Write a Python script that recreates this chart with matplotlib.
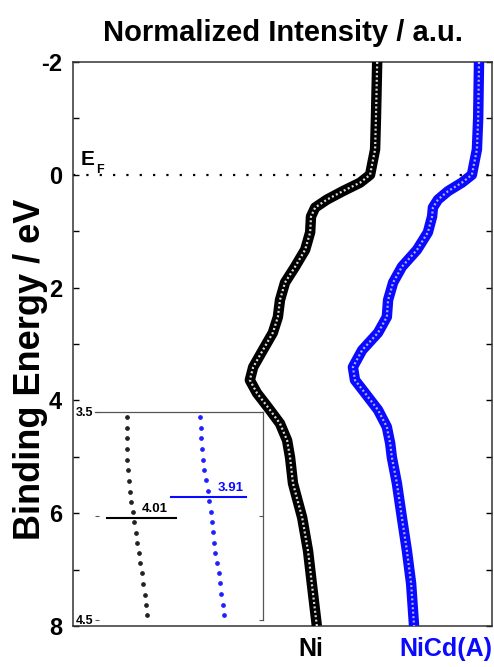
import numpy as np
import matplotlib
matplotlib.use('Agg')
import matplotlib.pyplot as plt

plt.rcParams['font.family'] = ['Liberation Sans', 'DejaVu Sans']
plt.rcParams['font.weight'] = 'bold'
plt.rcParams['axes.unicode_minus'] = False

# main spectra: binding energy (eV) vs normalized intensity (a.u.)
energy_ni = [-2.0, -1.0, -0.45, 0.0, 0.14, 0.29, 0.44, 0.58, 0.74, 1.02, 1.33, 1.63,
             1.91, 2.22, 2.52, 2.80, 3.11, 3.41, 3.64, 3.87, 4.12, 4.41, 4.71, 5.01,
             5.47, 6.08, 6.67, 7.25, 8.0]
intensity_ni = [0.726, 0.723, 0.721, 0.709, 0.685, 0.644, 0.606, 0.578, 0.568, 0.566,
                0.554, 0.530, 0.506, 0.494, 0.489, 0.477, 0.453, 0.430, 0.422, 0.439,
                0.465, 0.494, 0.511, 0.518, 0.525, 0.547, 0.561, 0.570, 0.582]

energy_nicd = [-2.0, -1.0, -0.45, 0.0, 0.14, 0.29, 0.44, 0.58, 0.74, 1.02, 1.33, 1.63,
               1.91, 2.22, 2.52, 2.80, 3.11, 3.41, 3.64, 3.87, 4.17, 4.47, 4.76, 5.01,
               5.47, 6.08, 6.67, 7.25, 8.0]
intensity_nicd = [0.969, 0.967, 0.964, 0.952, 0.928, 0.895, 0.871, 0.859, 0.857, 0.847,
                  0.821, 0.785, 0.764, 0.752, 0.749, 0.728, 0.690, 0.668, 0.673, 0.697,
                  0.728, 0.749, 0.757, 0.761, 0.773, 0.785, 0.797, 0.807, 0.814]

# inset: leading edge 3.5 - 4.5 eV
inset_e_ni = [3.526, 3.579, 3.627, 3.679, 3.731, 3.779, 3.832, 3.883, 3.931, 3.979,
              4.030, 4.080, 4.131, 4.179, 4.228, 4.276, 4.329, 4.380, 4.428, 4.476]
inset_i_ni = [0.282, 0.282, 0.282, 0.282, 0.286, 0.289, 0.295, 0.300, 0.305, 0.314,
              0.321, 0.330, 0.339, 0.347, 0.353, 0.361, 0.370, 0.379, 0.384, 0.389]
inset_e_nicd = [3.526, 3.579, 3.627, 3.679, 3.731, 3.779, 3.827, 3.878, 3.926, 3.979,
                4.027, 4.075, 4.128, 4.176, 4.228, 4.276, 4.324, 4.377, 4.428, 4.476]
inset_i_nicd = [0.668, 0.672, 0.675, 0.679, 0.686, 0.691, 0.700, 0.709, 0.718, 0.725,
                0.730, 0.735, 0.742, 0.749, 0.760, 0.767, 0.774, 0.781, 0.788, 0.795]
edge_ni = 4.01
edge_nicd = 3.91

BLUE = '#0a0aff'

fig = plt.figure(figsize=(4.94, 6.67), dpi=100)
W, H = 494, 667
ax = fig.add_axes([73 / W, 1 - 626 / H, (492 - 73) / W, (626 - 62) / H])


def spectrum(x, y, color, center):
    ax.plot(x, y, color=color, lw=7.5, solid_joinstyle='round', solid_capstyle='butt', zorder=3)
    ax.plot(x, y, color=center, lw=1.6, ls=(0, (0.9, 1.1)), alpha=0.85, zorder=4)


spectrum(intensity_ni, energy_ni, 'black', 'white')
spectrum(intensity_nicd, energy_nicd, BLUE, '#c8c8ff')

ax.axhline(0, color='black', lw=1.6, ls=(0, (1, 5)), zorder=2)

ax.set_xlim(0, 1)
ax.set_ylim(8, -2)
ax.set_xticks([])
ax.set_yticks([-2, 0, 2, 4, 6, 8])
ax.set_yticks(np.arange(-2, 9, 1), minor=True)
ax.tick_params(axis='y', which='both', direction='in', right=True, length=4,
               width=1, labelsize=17, pad=8)
for s in ax.spines.values():
    s.set_linewidth(1.1)
    s.set_color('#333333')
ax.set_ylabel('Binding Energy / eV', fontsize=26, fontweight='bold')
ax.yaxis.set_label_coords(-0.06, 0.455)
ax.set_title('Normalized Intensity / a.u.', fontsize=21, fontweight='bold', pad=15)

ax.text(0.018, -0.18, 'E', fontsize=15, fontweight='bold', transform=ax.get_yaxis_transform())
ax.text(0.054, -0.04, 'F', fontsize=9, fontweight='bold', transform=ax.get_yaxis_transform())

fig.text(311 / W, 1 - 649 / H, 'Ni', fontsize=18, fontweight='bold', ha='center', va='center')
fig.text(446 / W, 1 - 649 / H, 'NiCd(A)', fontsize=18, fontweight='bold', color=BLUE,
         ha='center', va='center')

# inset
ins = fig.add_axes([95 / W, 1 - 620 / H, (263 - 95) / W, (620 - 412) / H])
ins.patch.set_alpha(0)
ins.plot(inset_i_ni, inset_e_ni, ls='none', marker='o', ms=2.4, color='#222222')
ins.plot(inset_i_nicd, inset_e_nicd, ls='none', marker='o', ms=2.4, color='#2020ff')
ins.plot([0.177, 0.542], [edge_ni, edge_ni], color='black', lw=1.5)
ins.plot([0.514, 0.911], [edge_nicd, edge_nicd], color=BLUE, lw=1.5)
ins.text(0.432, edge_ni - 0.015, '%.2f' % edge_ni, fontsize=9.5, fontweight='bold',
         ha='center', va='bottom')
ins.text(0.829, edge_nicd - 0.015, '%.2f' % edge_nicd, fontsize=9.5, fontweight='bold',
         color=BLUE, ha='center', va='bottom')
ins.set_xlim((95 - 73) / 190, 1)
ins.set_ylim(4.5, 3.5)
ins.set_xticks([])
ins.set_yticks([3.5, 4.0, 4.5])
ins.set_yticklabels(['3.5', '', '4.5'])
ins.tick_params(axis='y', direction='in', right=True, length=3, width=0.8,
                labelsize=9, pad=1.5, color='#555555')
ins.spines['left'].set_visible(False)
ins.spines['bottom'].set_visible(False)
ins.spines['top'].set_color('#555555')
ins.spines['right'].set_color('#555555')
ins.spines['top'].set_linewidth(0.9)
ins.spines['right'].set_linewidth(0.9)

fig.savefig('out.png', dpi=100)
